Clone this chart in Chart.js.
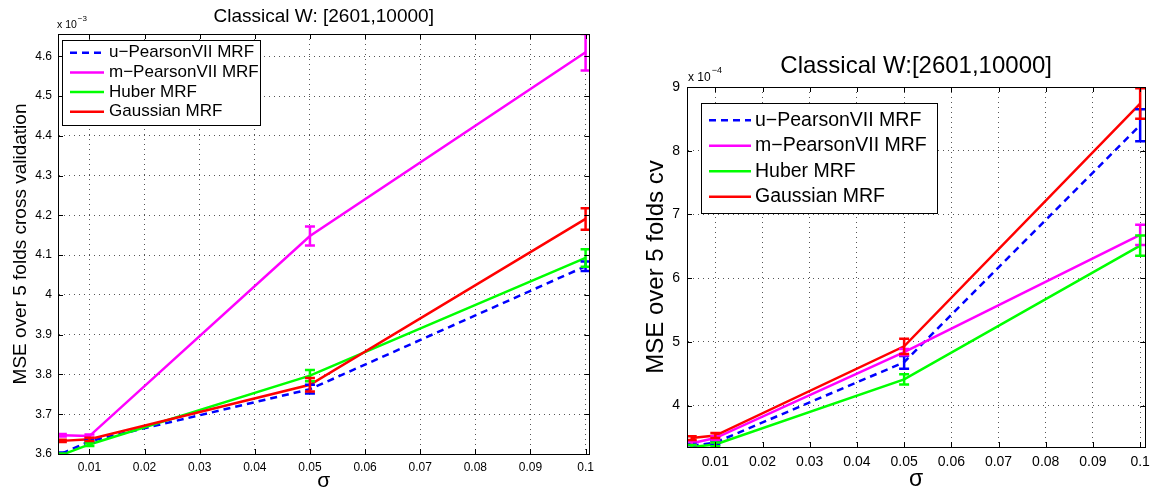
<!DOCTYPE html>
<html>
<head>
<meta charset="utf-8">
<script src="https://cdn.jsdelivr.net/npm/chart.js@4.4.1/dist/chart.umd.min.js"></script>
<style>
body { margin: 0; background: #fff; width: 1157px; height: 490px; overflow: hidden; position: relative; }
#caixaA { position: absolute; left: 0; top: 0; width: 600px; height: 490px; }
#caixaB { position: absolute; left: 600px; top: 0; width: 557px; height: 490px; }
</style>
</head>
<body>
<div id="caixaA"><canvas id="graficoA" width="600" height="490"></canvas></div>
<div id="caixaB"><canvas id="graficoB" width="557" height="490"></canvas></div>
<script>
// valores (esquerda em x10^-3, direita em x10^-4)
var sigma = [0.005, 0.01, 0.05, 0.1];
var xTicks = [0.01, 0.02, 0.03, 0.04, 0.05, 0.06, 0.07, 0.08, 0.09, 0.1];
var xTickLabels = ['0.01', '0.02', '0.03', '0.04', '0.05', '0.06', '0.07', '0.08', '0.09', '0.1'];
var nomes = ['u\u2212PearsonVII MRF', 'm\u2212PearsonVII MRF', 'Huber MRF', 'Gaussian MRF'];

// grafico da esquerda
var uPearsonA = [3.601, 3.632, 3.763, 4.072];
var uPearsonErroA = [0.003, 0.004, 0.011, 0.012];
var mPearsonA = [3.647, 3.645, 4.148, 4.61];
var mPearsonErroA = [0.003, 0.004, 0.024, 0.046];
var huberA = [3.598, 3.624, 3.797, 4.093];
var huberErroA = [0.003, 0.004, 0.014, 0.022];
var gaussA = [3.633, 3.637, 3.774, 4.191];
var gaussErroA = [0.003, 0.004, 0.017, 0.027];
var yTicksA = [3.6, 3.7, 3.8, 3.9, 4.0, 4.1, 4.2, 4.3, 4.4, 4.5, 4.6];
var yTickLabelsA = ['3.6', '3.7', '3.8', '3.9', '4', '4.1', '4.2', '4.3', '4.4', '4.5', '4.6'];

// grafico da direita
var uPearsonB = [3.37, 3.42, 4.68, 8.40];
var uPearsonErroB = [0.03, 0.03, 0.10, 0.25];
var mPearsonB = [3.41, 3.49, 4.84, 6.68];
var mPearsonErroB = [0.03, 0.03, 0.05, 0.16];
var huberB = [3.35, 3.39, 4.41, 6.51];
var huberErroB = [0.03, 0.03, 0.08, 0.16];
var gaussB = [3.49, 3.53, 4.93, 8.74];
var gaussErroB = [0.03, 0.04, 0.12, 0.24];
var yTicksB = [4, 5, 6, 7, 8, 9];
var yTickLabelsB = ['4', '5', '6', '7', '8', '9'];

var cores = ['#0000ff', '#ff00ff', '#00ff00', '#ff0000'];
var fonte = '"Liberation Sans", Arial, sans-serif';
Chart.defaults.font.family = fonte;

function serie(i, valores, erros) {
    return {
        label: nomes[i],
        data: sigma.map(function (s, k) { return { x: s, y: valores[k] }; }),
        erros: erros,
        borderColor: cores[i],
        backgroundColor: cores[i],
        borderWidth: 2.5,
        borderDash: i == 0 ? [7, 5] : [],
        pointRadius: 0,
        tension: 0,
        order: 4 - i
    };
}

// barras de erro, caixa, marcas internas, legenda e expoente
var extras = {
    id: 'extras',
    afterDatasetsDraw: function (chart, args, opts) {
        var ctx = chart.ctx, area = chart.chartArea;
        var sx = chart.scales.x, sy = chart.scales.y;
        ctx.save();
        ctx.beginPath();
        ctx.rect(area.left, area.top, area.right - area.left, area.bottom - area.top);
        ctx.clip();
        ctx.lineWidth = 2.5;
        ctx.setLineDash([]);
        chart.data.datasets.forEach(function (ds) {
            ds.data.forEach(function (p, k) {
                var x = sx.getPixelForValue(p.x);
                var y1 = sy.getPixelForValue(p.y - ds.erros[k]);
                var y2 = sy.getPixelForValue(p.y + ds.erros[k]);
                ctx.strokeStyle = ds.borderColor;
                ctx.beginPath();
                ctx.moveTo(x, y1); ctx.lineTo(x, y2);
                ctx.moveTo(x - opts.cap, y1); ctx.lineTo(x + opts.cap, y1);
                ctx.moveTo(x - opts.cap, y2); ctx.lineTo(x + opts.cap, y2);
                ctx.stroke();
            });
        });
        ctx.restore();
    },
    afterDraw: function (chart, args, opts) {
        var ctx = chart.ctx, area = chart.chartArea;
        var sx = chart.scales.x, sy = chart.scales.y;
        ctx.save();
        ctx.strokeStyle = '#000';
        ctx.lineWidth = 1;
        ctx.setLineDash([]);
        ctx.strokeRect(Math.round(area.left) + 0.5, Math.round(area.top) + 0.5,
            Math.round(area.right - area.left), Math.round(area.bottom - area.top));
        ctx.beginPath();
        sx.ticks.forEach(function (t) {
            var x = Math.round(sx.getPixelForValue(t.value)) + 0.5;
            ctx.moveTo(x, area.bottom); ctx.lineTo(x, area.bottom - 5);
            ctx.moveTo(x, area.top); ctx.lineTo(x, area.top + 5);
        });
        sy.ticks.forEach(function (t) {
            var y = Math.round(sy.getPixelForValue(t.value)) + 0.5;
            ctx.moveTo(area.left, y); ctx.lineTo(area.left + 5, y);
            ctx.moveTo(area.right, y); ctx.lineTo(area.right - 5, y);
        });
        ctx.stroke();

        var lg = opts.legenda;
        var bx = Math.round(area.left + lg.dx), by = Math.round(area.top + lg.dy);
        ctx.fillStyle = '#fff';
        ctx.fillRect(bx, by, lg.w, lg.h);
        ctx.strokeStyle = '#000';
        ctx.lineWidth = 1;
        ctx.strokeRect(bx + 0.5, by + 0.5, lg.w, lg.h);
        ctx.font = lg.fonte + 'px ' + fonte;
        ctx.textBaseline = 'middle';
        ctx.textAlign = 'left';
        chart.data.datasets.forEach(function (ds, i) {
            var yy = by + lg.y0 + i * lg.passo;
            ctx.strokeStyle = ds.borderColor;
            ctx.lineWidth = 2.5;
            ctx.setLineDash(ds.borderDash);
            ctx.beginPath();
            ctx.moveTo(bx + lg.a0, yy); ctx.lineTo(bx + lg.a1, yy);
            ctx.stroke();
            ctx.setLineDash([]);
            ctx.fillStyle = '#000';
            ctx.fillText(ds.label, bx + lg.tx, yy);
        });

        var ex = opts.expoente;
        ctx.fillStyle = '#000';
        ctx.textBaseline = 'alphabetic';
        ctx.font = ex.fonte + 'px ' + fonte;
        var bx2 = area.left + ex.dx, by2 = area.top - ex.dy;
        ctx.fillText('x 10', bx2, by2);
        var w = ctx.measureText('x 10').width;
        ctx.font = ex.fonteSup + 'px ' + fonte;
        ctx.fillText(ex.texto, bx2 + w + 1, by2 - ex.sobe);
        ctx.restore();
    }
};

function montarGrafico(id, series, yTicks, yLabels, cfg) {
    return new Chart(document.getElementById(id), {
        type: 'line',
        data: { datasets: series },
        options: {
            responsive: false,
            animation: false,
            layout: { padding: { left: 0, right: cfg.padDir, top: 0, bottom: 0 } },
            plugins: {
                legend: { display: false },
                tooltip: { enabled: false },
                title: {
                    display: true, text: cfg.titulo, fullSize: false, color: '#000',
                    font: { size: cfg.fTitulo, weight: 'normal' }, padding: cfg.padTitulo
                },
                extras: { cap: 5, legenda: cfg.legenda, expoente: cfg.expoente }
            },
            scales: {
                x: {
                    type: 'linear', min: cfg.xMin, max: cfg.xMax,
                    afterBuildTicks: function (s) { s.ticks = xTicks.map(function (v) { return { value: v }; }); },
                    afterFit: function (s) { s.height = cfg.altX; },
                    ticks: {
                        autoSkip: false, maxRotation: 0, padding: cfg.padTickX, color: '#000',
                        font: { size: cfg.fTick },
                        callback: function (v, i) { return xTickLabels[i]; }
                    },
                    grid: { color: '#555', drawTicks: false },
                    border: { display: true, color: '#000', dash: [1, 4] },
                    title: {
                        display: true, text: '\u03c3', color: '#000',
                        font: { size: cfg.fSigma, lineHeight: 1 }, padding: { top: 0, bottom: cfg.padSigma }
                    }
                },
                y: {
                    type: 'linear', min: cfg.yMin, max: cfg.yMax,
                    afterBuildTicks: function (s) { s.ticks = yTicks.map(function (v) { return { value: v }; }); },
                    afterFit: function (s) { s.width = cfg.largY; },
                    ticks: {
                        autoSkip: false, padding: cfg.padTickY, color: '#000',
                        font: { size: cfg.fTick },
                        callback: function (v, i) { return yLabels[i]; }
                    },
                    grid: { color: '#555', drawTicks: false },
                    border: { display: true, color: '#000', dash: [1, 4] },
                    title: {
                        display: true, text: cfg.tituloY, color: '#000',
                        font: { size: cfg.fTituloY }, padding: { top: cfg.padTituloY, bottom: 0 }
                    }
                }
            }
        },
        plugins: [extras]
    });
}

var graficoA = montarGrafico('graficoA',
    [serie(0, uPearsonA, uPearsonErroA), serie(1, mPearsonA, mPearsonErroA),
     serie(2, huberA, huberErroA), serie(3, gaussA, gaussErroA)],
    yTicksA, yTickLabelsA, {
        titulo: 'Classical W: [2601,10000]', fTitulo: 19, padTitulo: { top: 5.3, bottom: 5.9 },
        tituloY: 'MSE over 5 folds cross validation', fTituloY: 19, padTituloY: 9.6,
        xMin: 0.0043, xMax: 0.1007, yMin: 3.6, yMax: 4.656,
        padDir: 9, largY: 58, altX: 36, padTickX: 6, padTickY: 6, fTick: 12,
        fSigma: 21, padSigma: -2,
        legenda: { dx: 4, dy: 6, w: 198, h: 85, fonte: 17, y0: 12.7, passo: 19.7, a0: 8, a1: 42, tx: 47 },
        expoente: { dx: -1, dy: 6, fonte: 10.5, fonteSup: 8, sobe: 7, texto: '\u22123' }
    });

var graficoB = montarGrafico('graficoB',
    [serie(0, uPearsonB, uPearsonErroB), serie(1, mPearsonB, mPearsonErroB),
     serie(2, huberB, huberErroB), serie(3, gaussB, gaussErroB)],
    yTicksB, yTickLabelsB, {
        titulo: 'Classical W:[2601,10000]', fTitulo: 24, padTitulo: { top: 51.6, bottom: 6.6 },
        tituloY: 'MSE over 5 folds cv', fTituloY: 24, padTituloY: 41.6,
        xMin: 0.004, xMax: 0.1011, yMin: 3.35, yMax: 9,
        padDir: 10, largY: 87, altX: 43, padTickX: 7, padTickY: 7, fTick: 14,
        fSigma: 23, padSigma: -1,
        legenda: { dx: 14, dy: 16, w: 236, h: 110, fonte: 19.5, y0: 17.3, passo: 25.5, a0: 8, a1: 50, tx: 54 },
        expoente: { dx: 1, dy: 6, fonte: 12, fonteSup: 9, sobe: 8, texto: '\u22124' }
    });
</script>
</body>
</html>
